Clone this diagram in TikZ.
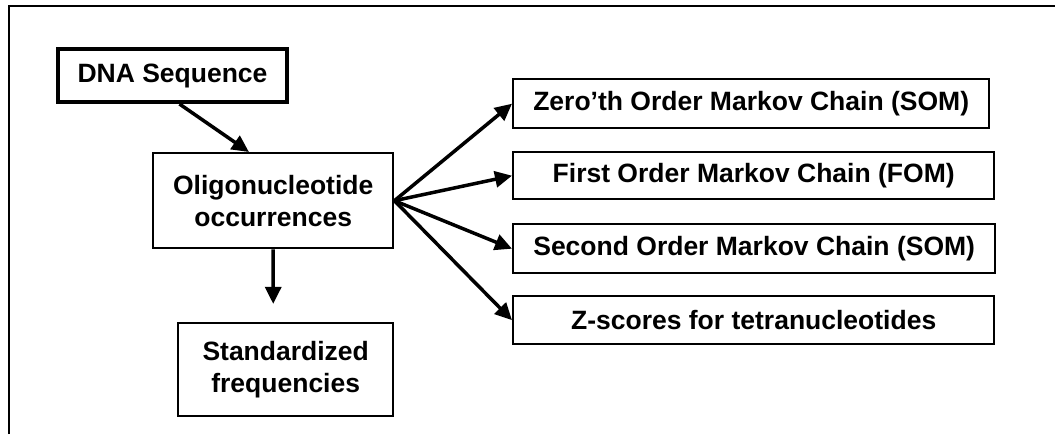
\documentclass[tikz,border=0pt]{standalone}
\usepackage{fontspec}
\setmainfont{Liberation Sans}
\usetikzlibrary{arrows.meta,calc}
\begin{document}
\begin{tikzpicture}[x=1pt,y=-1pt,
  box/.style={draw=black,line width=2.4pt,rectangle,inner sep=0pt,align=center,
    font=\fontsize{26.5}{32}\selectfont\bfseries,anchor=north west},
  conn/.style={line width=3.5pt,-{Triangle[length=17pt,width=16pt]}}]
\useasboundingbox (0,0) rectangle (1055,434);
\draw[line width=2.4pt] (9,434) -- (9,6) -- (1055,6);
\node[box,line width=4pt,minimum width=229pt,minimum height=53pt] (dna) at (56,47) {DNA Sequence};
\node[box,minimum width=240pt,minimum height=95pt] (oligo) at (152,152) {Oligonucleotide\\occurrences};
\node[box,minimum width=215pt,minimum height=93pt] (std) at (177,322) {Standardized\\frequencies};
\node[box,minimum width=476pt,minimum height=49pt] (zom) at (512,78) {Zero’th Order Markov Chain (SOM)};
\node[box,minimum width=481pt,minimum height=47pt] (fom) at (512,151) {First Order Markov Chain (FOM)};
\node[box,minimum width=482pt,minimum height=49pt] (som) at (512,223) {Second Order Markov Chain (SOM)};
\node[box,minimum width=481pt,minimum height=48pt] (zs) at (512,295) {Z-scores for tetranucleotides};
\draw[conn] ($(dna.south west)!0.53!(dna.south east)$) -- ($(oligo.north west)!0.4!(oligo.north east)$);
\coordinate (dn) at ($(oligo.south)!0.75!(oligo.south |- std.north)$);
\draw[conn] (oligo.south) -- (dn);
\draw[conn] (oligo.east) -- (zom.west);
\draw[conn] (oligo.east) -- (fom.west);
\draw[conn] (oligo.east) -- (som.west);
\draw[conn] (oligo.east) -- (zs.west);
\end{tikzpicture}
\end{document}
